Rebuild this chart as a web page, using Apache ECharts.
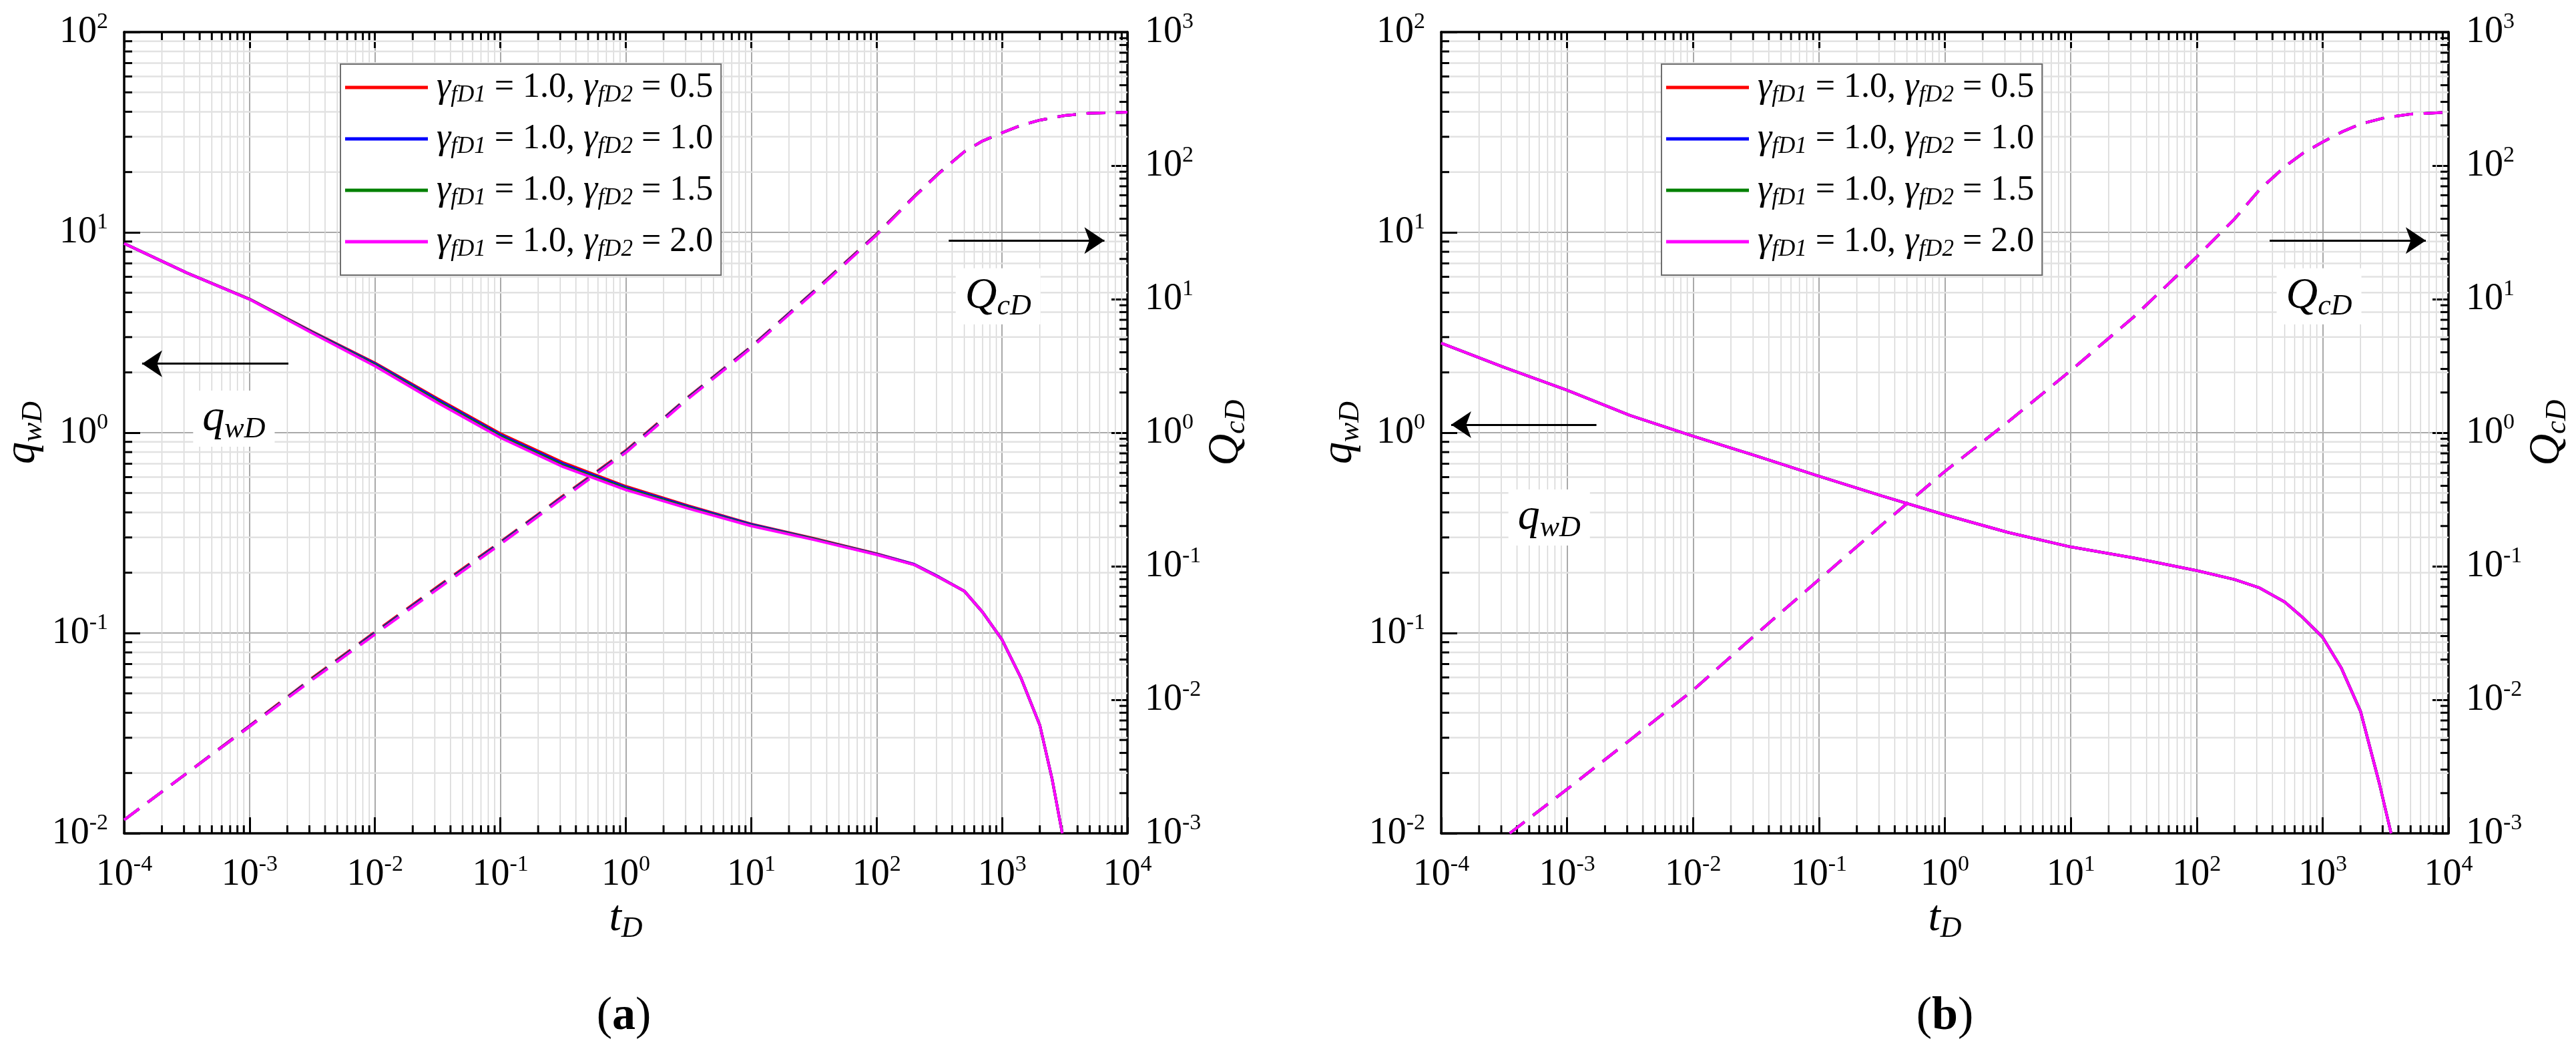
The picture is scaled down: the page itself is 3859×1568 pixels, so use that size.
<!DOCTYPE html>
<html>
<head>
<meta charset="utf-8">
<script src="https://cdn.jsdelivr.net/npm/echarts@6/dist/echarts.min.js"></script>
<style>
html,body{margin:0;padding:0;background:#fff;}
#chart{width:3859px;height:1568px;}
</style>
</head>
<body>
<div id="chart"></div>
<script>
// ---------- data ----------
// panel (a): dimensionless rate q_wD (left axis)
const tA_q = [1e-4, 3.16e-4, 1e-3, 3.16e-3, 1e-2, 3.16e-2, 0.1, 0.316, 1, 3.16, 10, 31.6, 100, 200, 316, 500, 700, 1000, 1410, 2000, 2510, 3020];
const qA_05 = [8.8, 6.28, 4.65, 3.20, 2.23, 1.48, 0.99, 0.71, 0.54, 0.432, 0.350, 0.297, 0.249, 0.220, 0.190, 0.162, 0.127, 0.0926, 0.060, 0.0347, 0.0186, 0.0100];
const qA_10 = [8.8, 6.28, 4.64, 3.18, 2.21, 1.46, 0.975, 0.698, 0.533, 0.428, 0.348, 0.295, 0.248, 0.220, 0.190, 0.162, 0.127, 0.0926, 0.060, 0.0347, 0.0186, 0.0100];
const qA_15 = [8.8, 6.28, 4.64, 3.16, 2.18, 1.435, 0.96, 0.686, 0.526, 0.423, 0.345, 0.294, 0.247, 0.219, 0.189, 0.162, 0.127, 0.0926, 0.060, 0.0347, 0.0186, 0.0100];
const qA_20 = [8.8, 6.28, 4.63, 3.14, 2.15, 1.41, 0.944, 0.675, 0.518, 0.418, 0.342, 0.292, 0.246, 0.219, 0.189, 0.162, 0.127, 0.0926, 0.060, 0.0347, 0.0186, 0.0100];
// panel (a): cumulative production Q_cD (right axis)
const tA_Q = [1e-4, 3.16e-4, 1e-3, 3.16e-3, 1e-2, 3.16e-2, 0.1, 0.316, 1, 3.16, 10, 31.6, 100, 200, 316, 500, 700, 1000, 1410, 2000, 3160, 5010, 10000];
const QA_05 = [0.00126, 0.00282, 0.0064, 0.0146, 0.0322, 0.0705, 0.152, 0.337, 0.735, 1.86, 4.42, 11.5, 30.8, 59.0, 88.5, 127, 153, 176, 200, 219, 237, 247, 251];
const QA_10 = [0.00126, 0.00282, 0.00635, 0.0144, 0.0317, 0.0693, 0.150, 0.332, 0.725, 1.84, 4.38, 11.4, 30.6, 58.8, 88.2, 127, 153, 176, 200, 219, 237, 247, 251];
const QA_15 = [0.00126, 0.00282, 0.0063, 0.0143, 0.0313, 0.0684, 0.148, 0.328, 0.716, 1.82, 4.34, 11.3, 30.4, 58.5, 88.0, 127, 153, 176, 200, 219, 237, 247, 251];
const QA_20 = [0.00126, 0.00282, 0.0063, 0.0141, 0.0309, 0.0676, 0.146, 0.324, 0.708, 1.80, 4.30, 11.2, 30.2, 58.3, 87.7, 127, 153, 176, 200, 219, 237, 247, 251];
// panel (b): the four cases coincide
const tB_q = [1e-4, 3.16e-4, 1e-3, 3.16e-3, 1e-2, 3.16e-2, 0.1, 0.316, 1, 3.16, 10, 31.6, 100, 200, 316, 500, 700, 1000, 1410, 2000, 2820, 3500];
const qB = [2.80, 2.12, 1.63, 1.22, 0.962, 0.767, 0.607, 0.484, 0.389, 0.318, 0.269, 0.237, 0.205, 0.185, 0.168, 0.143, 0.119, 0.0953, 0.0668, 0.0407, 0.0178, 0.0100];
const tB_Q = [3.5e-4, 1e-3, 3.16e-3, 1e-2, 3.16e-2, 0.1, 0.316, 1, 3.16, 10, 31.6, 100, 200, 316, 500, 700, 1000, 1410, 2000, 3160, 5010, 10000];
const QB = [0.00100, 0.00214, 0.0050, 0.0118, 0.0309, 0.0794, 0.204, 0.513, 1.20, 2.92, 7.35, 20.7, 39.9, 66, 98, 124, 150, 178, 205, 229, 243, 251];

const fD2Values = ['0.5', '1.0', '1.5', '2.0'];
const caseColors = ['#ff0000', '#0000ff', '#008000', '#ff00ff'];
const xTickRange = [1e-4, 1e4];
const yLeftRange = [1e-2, 1e2];
const yRightRange = [1e-3, 1e3];
const panelLabels = ['a', 'b'];

// ---------- helpers ----------
const FONT = 'Liberation Serif';
const names = fD2Values.map(v => 'γfD1 = 1.0, γfD2 = ' + v);
function zip(xs, ys) { return xs.map((x, i) => [x, ys[i]]); }

const tickRich = {
  b: {fontFamily: FONT, fontSize: 56, lineHeight: 64, color: '#000'},
  s: {fontFamily: FONT, fontSize: 34, lineHeight: 34, verticalAlign: 'top', color: '#000'}
};
function powLabel(v) {
  const e = Math.round(Math.log10(v));
  return '{b|10}{s|' + e + '}';
}
function titleRich() {
  return {
    i: {fontFamily: FONT, fontStyle: 'italic', fontSize: 66, lineHeight: 76, color: '#000'},
    s: {fontFamily: FONT, fontStyle: 'italic', fontSize: 44, verticalAlign: 'bottom', color: '#000'}
  };
}

// minor grid / tick data (values 2..9 per decade)
function minorValues(lo, hi) {
  const out = [];
  for (let d = Math.round(Math.log10(lo)); d < Math.round(Math.log10(hi)); d++) {
    for (let m = 2; m <= 9; m++) out.push(m * Math.pow(10, d));
  }
  return out;
}
const minorX = minorValues(xTickRange[0], xTickRange[1]);
const minorYL = minorValues(yLeftRange[0], yLeftRange[1]);
const minorYR = minorValues(yRightRange[0], yRightRange[1]);

function minorRender(params, api) {
  const cs = params.coordSys;
  const kind = api.value(2);
  const ch = [];
  const tl = 12;
  if (kind === 0) {
    const x = api.coord([api.value(0), 1])[0];
    ch.push({type: 'line', shape: {x1: x, y1: cs.y, x2: x, y2: cs.y + cs.height}, style: {stroke: '#d6d6d6', lineWidth: 1.5}});
    ch.push({type: 'line', shape: {x1: x, y1: cs.y + cs.height, x2: x, y2: cs.y + cs.height - tl}, style: {stroke: '#000', lineWidth: 3}});
    ch.push({type: 'line', shape: {x1: x, y1: cs.y, x2: x, y2: cs.y + tl}, style: {stroke: '#000', lineWidth: 3}});
  } else if (kind === 1) {
    const y = api.coord([1, api.value(1)])[1];
    ch.push({type: 'line', shape: {x1: cs.x, y1: y, x2: cs.x + cs.width, y2: y}, style: {stroke: '#e2e2e2', lineWidth: 2.5}});
    ch.push({type: 'line', shape: {x1: cs.x, y1: y, x2: cs.x + tl, y2: y}, style: {stroke: '#000', lineWidth: 3}});
  } else {
    const y = api.coord([1, api.value(1)])[1];
    ch.push({type: 'line', shape: {x1: cs.x + cs.width, y1: y, x2: cs.x + cs.width - tl, y2: y}, style: {stroke: '#000', lineWidth: 3}});
  }
  return {type: 'group', children: ch};
}

const axisLineStyle = {show: true, onZero: false, lineStyle: {color: '#000', width: 3.5}};
const majorTick = {show: true, inside: true, length: 24, lineStyle: {color: '#000', width: 3}};

const xAxes = [], yAxes = [], series = [], legends = [];
const grids = [
  {left: 180, top: 48, width: 1509, height: 1200},
  {left: 2159, top: 48, width: 1509, height: 1200}
];

const panels = [
  {
    q: [zip(tA_q, qA_05), zip(tA_q, qA_10), zip(tA_q, qA_15), zip(tA_q, qA_20)],
    Q: [zip(tA_Q, QA_05), zip(tA_Q, QA_10), zip(tA_Q, QA_15), zip(tA_Q, QA_20)],
    qArrow: [[2.04e-3, 2.21], [1.39e-4, 2.21]], qText: [7.5e-4, 1.175],
    QArrow: [[376, 27.5], [6550, 27.5]], QText: [930, 10.5]
  },
  {
    q: [zip(tB_q, qB), zip(tB_q, qB), zip(tB_q, qB), zip(tB_q, qB)],
    Q: [zip(tB_Q, QB), zip(tB_Q, QB), zip(tB_Q, QB), zip(tB_Q, QB)],
    qArrow: [[1.71e-3, 1.097], [1.2e-4, 1.097]], qText: [7.2e-4, 0.377],
    QArrow: [[380, 27.5], [6600, 27.5]], QText: [937, 10.5]
  }
];

function arrowLine(from, to) {
  return {
    silent: true, animation: false,
    symbol: ['none', 'arrow'], symbolSize: 30,
    label: {show: false},
    lineStyle: {color: '#000', width: 3, type: 'solid'},
    data: [[{coord: from, symbol: 'none'}, {coord: to, symbol: 'arrow', symbolSize: 30}]]
  };
}
function textPoint(coord, main, sub) {
  return {
    silent: true, animation: false,
    symbol: 'rect', symbolSize: 1, itemStyle: {color: 'rgba(0,0,0,0)'},
    label: {
      show: true, position: 'inside',
      formatter: '{i|' + main + '}{s|' + sub + '}',
      backgroundColor: '#fff', padding: [4, 14, 4, 14],
      rich: titleRich()
    },
    data: [{coord: coord}]
  };
}

panels.forEach((p, g) => {
  const xb = g * 2, xt = g * 2 + 1, yl = g * 2, yr = g * 2 + 1;
  xAxes.push({
    gridIndex: g, type: 'log', logBase: 10, min: xTickRange[0], max: xTickRange[1], position: 'bottom',
    axisLine: axisLineStyle, axisTick: majorTick,
    axisLabel: {margin: 30, formatter: powLabel, rich: tickRich},
    splitLine: {show: true, lineStyle: {color: '#a9a9a9', width: 2}},
    minorTick: {show: false}, minorSplitLine: {show: false},
    name: '{i|t}{s|D}', nameLocation: 'middle', nameGap: 88,
    nameTextStyle: {rich: titleRich()}
  });
  xAxes.push({
    gridIndex: g, type: 'log', logBase: 10, min: xTickRange[0], max: xTickRange[1], position: 'top',
    axisLine: axisLineStyle, axisTick: majorTick, axisLabel: {show: false}, splitLine: {show: false}
  });
  yAxes.push({
    gridIndex: g, type: 'log', logBase: 10, min: yLeftRange[0], max: yLeftRange[1], position: 'left',
    axisLine: axisLineStyle, axisTick: majorTick,
    axisLabel: {margin: 24, formatter: powLabel, rich: tickRich},
    splitLine: {show: true, lineStyle: {color: '#a9a9a9', width: 2}},
    name: '{i|q}{s|wD}', nameLocation: 'middle', nameRotate: 90, nameGap: 114,
    nameTextStyle: {rich: titleRich()}
  });
  yAxes.push({
    gridIndex: g, type: 'log', logBase: 10, min: yRightRange[0], max: yRightRange[1], position: 'right',
    axisLine: axisLineStyle, axisTick: majorTick,
    axisLabel: {margin: 26, formatter: powLabel, rich: tickRich},
    splitLine: {show: false},
    name: '{i|Q}{s|cD}', nameLocation: 'middle', nameRotate: 90, nameGap: 108,
    nameTextStyle: {rich: titleRich()}
  });

  // minor grid + minor ticks
  const minorData = [];
  minorX.forEach(v => minorData.push([v, 1, 0]));
  minorYL.forEach(v => minorData.push([1, v, 1]));
  series.push({
    type: 'custom', xAxisIndex: xb, yAxisIndex: yl, z: 1, silent: true,
    renderItem: minorRender, data: minorData, encode: {x: 0, y: 1}, animation: false
  });
  series.push({
    type: 'custom', xAxisIndex: xb, yAxisIndex: yr, z: 1, silent: true,
    renderItem: minorRender, data: minorYR.map(v => [1, v, 2]), encode: {x: 0, y: 1}, animation: false
  });

  // q_wD solid lines
  p.q.forEach((d, i) => {
    const s = {
      type: 'line', name: names[i], xAxisIndex: xb, yAxisIndex: yl, data: d,
      symbol: 'none', showSymbol: false, smooth: false, clip: true, z: 3 + i,
      lineStyle: {color: caseColors[i], width: 4, type: 'solid'}, itemStyle: {color: caseColors[i]},
      animation: false
    };
    if (i === 3) {
      s.markLine = arrowLine(p.qArrow[0], p.qArrow[1]);
      s.markPoint = textPoint(p.qText, 'q', 'wD');
    }
    series.push(s);
  });
  // Q_cD dashed lines
  p.Q.forEach((d, i) => {
    const s = {
      type: 'line', name: names[i], xAxisIndex: xb, yAxisIndex: yr, data: d,
      symbol: 'none', showSymbol: false, smooth: false, clip: true, z: 3 + i,
      lineStyle: {color: caseColors[i], width: 4, type: [28, 16]}, itemStyle: {color: caseColors[i]},
      animation: false
    };
    if (i === 3) {
      s.markLine = arrowLine(p.QArrow[0], p.QArrow[1]);
      s.markPoint = textPoint(p.QText, 'Q', 'cD');
    }
    series.push(s);
  });

  legends.push({
    left: grids[g].left + 330, top: 96, orient: 'vertical',
    data: names.map(n => ({name: n, icon: 'rect'})), itemWidth: 124, itemHeight: 5, itemGap: 21,
    backgroundColor: '#fff', borderColor: '#6e6e6e', borderWidth: 2, borderRadius: 0,
    padding: [8, 12, 21, 7], selectedMode: false,
    formatter: function (name) {
      const v = name.split('= ').pop();
      return '{g|γ}{s|fD1}{t| = 1.0, }{g|γ}{s|fD2}{t| = ' + v + '}';
    },
    textStyle: {
      fontFamily: FONT, fontSize: 52, color: '#000', padding: [0, 0, 0, 8],
      rich: {
        g: {fontFamily: FONT, fontStyle: 'italic', fontSize: 54, lineHeight: 58, color: '#000'},
        t: {fontFamily: FONT, fontSize: 52, lineHeight: 58, color: '#000'},
        s: {fontFamily: FONT, fontStyle: 'italic', fontSize: 35, verticalAlign: 'bottom', color: '#000'}
      }
    }
  });
});

const chart = echarts.init(document.getElementById('chart'), null, {renderer: 'canvas'});
chart.setOption({
  backgroundColor: '#fff',
  animation: false,
  grid: grids,
  xAxis: xAxes,
  yAxis: yAxes,
  legend: legends,
  series: series,
  graphic: panelLabels.map((lab, g) => ({
    type: 'text', x: grids[g].left + grids[g].width / 2, y: 1523,
    style: {
      text: '{p|(}{a|' + lab + '}{p|)}', align: 'center', verticalAlign: 'middle',
      rich: {
        p: {fontFamily: FONT, fontSize: 70, fill: '#000'},
        a: {fontFamily: FONT, fontSize: 70, fontWeight: 'bold', fill: '#000'}
      }
    }
  }))
});
</script>
</body>
</html>
